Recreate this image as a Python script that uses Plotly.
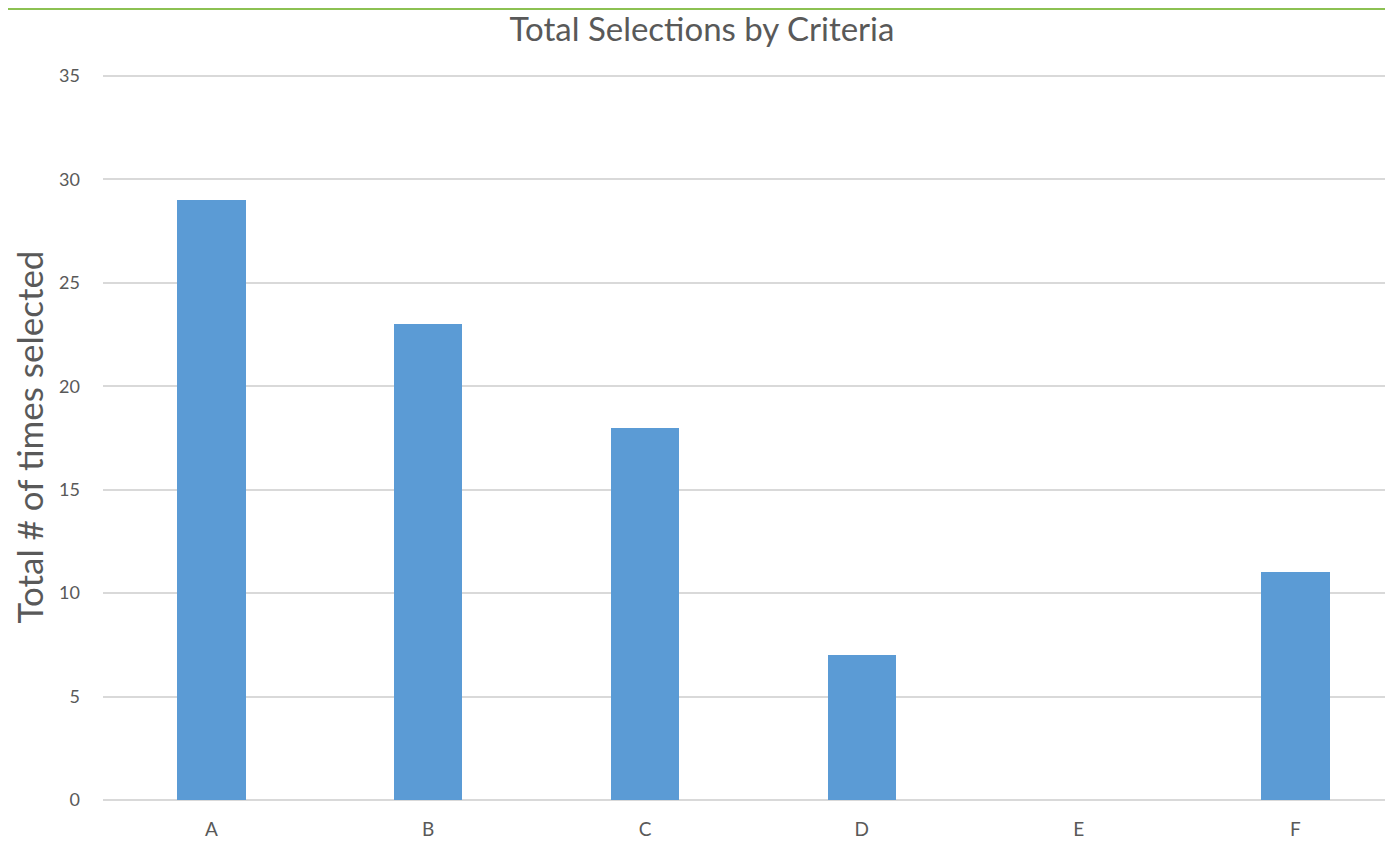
import plotly.graph_objects as go

categories = ["A", "B", "C", "D", "E", "F"]
values = [29, 23, 18, 7, 0, 11]
y_ticks = [0, 5, 10, 15, 20, 25, 30, 35]

# page body has an 8px margin, so the figure is sized to fit the window
W, H = 1385, 835
ML, MR, MT, MB = 95, 0, 66, 43
plot_h = H - MT - MB

fig = go.Figure(go.Bar(
    x=categories, y=values,
    marker=dict(color="#5b9bd5", line=dict(width=0)),
    width=0.315,
))

fig.update_layout(
    width=W, height=H,
    margin=dict(l=ML, r=MR, t=MT, b=MB),
    paper_bgcolor="white", plot_bgcolor="white",
    font=dict(family="Lato, 'Open Sans', sans-serif", color="#595959"),
    title=dict(text="Total Selections by Criteria", x=(702 - 8 - ML) / (W - ML),
               xref="paper", xanchor="center",
               y=1 - 21 / H, yanchor="middle",
               font=dict(size=33, color="#595959")),
    showlegend=False,
    bargap=0,
)
fig.update_xaxes(range=[-0.5, 5.45], showgrid=False, showline=False,
                 ticks="", tickfont=dict(size=19, color="#595959"),
                 ticklabelstandoff=16)
fig.update_yaxes(range=[0, 35.1], tickvals=y_ticks, showgrid=True,
                 gridcolor="#d9d9d9", gridwidth=1.5, zeroline=True,
                 zerolinecolor="#d9d9d9", zerolinewidth=2,
                 ticks="", tickfont=dict(size=18, color="#595959"),
                 ticklabelstandoff=22,
                 title=dict(text="Total # of times selected",
                            font=dict(size=35, color="#595959"), standoff=10))

fig.add_shape(type="line", xref="paper", yref="paper",
              x0=-ML / (W - ML - MR), x1=1, y0=1 + (MT - 1) / plot_h, y1=1 + (MT - 1) / plot_h,
              line=dict(color="#8cc152", width=2))

fig.write_html("out.html")
